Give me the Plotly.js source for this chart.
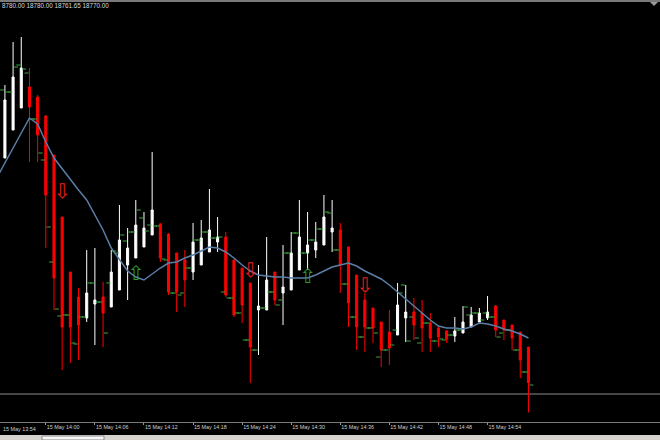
<!DOCTYPE html>
<html>
<head>
<meta charset="utf-8">
<script src="https://cdn.plot.ly/plotly-3.0.1.min.js"></script>
<style>html,body{margin:0;padding:0;background:#000;}#chart{width:660px;height:440px;}</style>
</head>
<body>
<div id="chart"></div>
<script>
// ---- data ----
const day = "2016-05-15 ";
const times = ["13:54","13:55","13:56","13:57","13:58","13:59",
"14:00","14:01","14:02","14:03","14:04","14:05","14:06","14:07","14:08","14:09",
"14:10","14:11","14:12","14:13","14:14","14:15","14:16","14:17","14:18","14:19",
"14:20","14:21","14:22","14:23","14:24","14:25","14:26","14:27","14:28","14:29",
"14:30","14:31","14:32","14:33","14:34","14:35","14:36","14:37","14:38","14:39",
"14:40","14:41","14:42","14:43","14:44","14:45","14:46","14:47","14:48","14:49",
"14:50","14:51","14:52","14:53","14:54","14:55","14:56","14:57","14:58","14:59"];
// Heiken Ashi candles, 13:55 .. 14:59
const openP = [18832.92,18840.76,18846.92,18852.80,18850.00,18844.68,18833.76,18816.40,18801.00,18794.00,
18788.12,18792.04,18794.00,18791.20,18795.96,18802.96,18804.92,18808.00,18811.36,18814.44,
18811.64,18806.32,18804.36,18801.00,18802.96,18806.60,18809.40,18810.80,18804.36,18802.12,
18797.92,18790.36,18790.36,18801.00,18795.12,18795.96,18801.56,18806.32,18807.16,18808.56,
18812.20,18812.76,18808.00,18800.16,18793.16,18790.92,18787.00,18784.20,18783.36,18788.12,
18789.80,18789.52,18786.72,18785.32,18784.48,18783.08,18783.92,18785.60,18787.00,18788.12,
18791.48,18787.56,18786.16,18784.20,18780.00];
const highP = [18853.36,18865.40,18866.80,18858.12,18850.56,18844.96,18833.76,18816.40,18801.00,18796.52,
18807.16,18807.72,18798.20,18807.16,18819.76,18813.32,18821.16,18817.80,18834.60,18814.72,
18811.92,18806.32,18807.16,18814.72,18815.56,18824.24,18816.40,18812.20,18804.36,18802.12,
18797.92,18802.96,18810.80,18801.00,18808.56,18812.20,18821.16,18817.80,18815.00,18822.56,
18821.16,18814.72,18808.00,18800.16,18795.12,18790.92,18787.00,18790.36,18797.92,18797.36,
18793.72,18793.16,18789.52,18785.60,18784.76,18788.40,18791.48,18791.20,18790.92,18794.28,
18791.76,18787.56,18786.16,18784.20,18780.00];
const lowP = [18832.92,18840.76,18846.92,18831.80,18831.80,18807.72,18790.36,18773.56,18775.52,18776.36,
18787.00,18780.56,18780.00,18791.20,18795.96,18793.16,18804.92,18808.00,18811.36,18803.80,
18794.56,18789.80,18791.20,18798.76,18802.96,18806.60,18806.60,18794.00,18788.40,18786.72,
18769.92,18777.76,18790.36,18791.76,18786.16,18795.96,18801.56,18801.56,18804.92,18808.56,
18806.60,18795.12,18785.60,18779.16,18778.60,18781.12,18774.40,18774.96,18783.36,18781.40,
18781.96,18778.60,18778.60,18780.00,18781.12,18781.40,18783.92,18785.60,18787.00,18787.56,
18782.80,18781.96,18779.16,18771.32,18761.65];
const closeP = [18849.16,18855.60,18858.12,18847.20,18839.36,18822.56,18799.32,18785.60,18785.60,18786.16,
18795.12,18793.16,18789.52,18801.00,18809.96,18807.72,18814.16,18813.32,18818.36,18804.92,
18795.40,18795.40,18798.76,18809.40,18810.52,18812.76,18810.80,18794.56,18788.96,18791.76,
18780.00,18791.48,18798.76,18793.16,18796.80,18806.32,18810.80,18808.56,18809.40,18816.40,
18813.32,18802.96,18792.32,18785.60,18785.60,18785.32,18779.16,18779.72,18791.76,18789.80,
18786.16,18785.32,18782.52,18782.80,18782.24,18784.48,18787.00,18788.96,18789.52,18789.80,
18784.76,18784.76,18782.52,18776.36,18770.00];
// real bar open / close ticks (green), 13:55 .. 14:59
const tickOpen = [18851.96,18851.40,18858.96,18856.72,18843.84,18832.36,18803.80,18788.68,18788.96,18780.84,
18788.40,18797.92,18792.60,18797.92,18806.32,18809.68,18812.20,18816.12,18814.16,18813.88,
18804.36,18795.12,18795.12,18802.12,18809.96,18812.20,18810.52,18795.40,18793.72,18789.52,
18781.96,18779.16,18790.92,18795.40,18793.16,18806.32,18811.92,18806.32,18809.96,18813.04,
18817.52,18807.16,18797.64,18788.40,18782.80,18785.32,18777.20,18779.16,18784.76,18797.36,
18788.40,18781.12,18786.72,18781.68,18781.96,18783.36,18784.76,18788.96,18789.52,18789.52,
18788.40,18783.92,18784.76,18779.16,18773.00];
const tickClose = [18851.40,18858.40,18857.84,18843.84,18834.32,18813.60,18790.64,18788.96,18781.12,18788.40,
18797.92,18792.60,18783.92,18806.88,18811.36,18812.20,18818.36,18812.48,18813.88,18804.64,
18795.12,18794.56,18802.12,18809.96,18812.20,18810.52,18810.80,18793.72,18789.52,18781.96,
18779.16,18790.92,18795.40,18791.76,18806.32,18811.92,18806.32,18809.96,18813.04,18817.80,
18807.16,18797.64,18788.40,18782.80,18785.32,18783.92,18779.16,18780.56,18795.12,18781.68,
18782.52,18786.72,18781.68,18782.24,18783.36,18784.76,18791.20,18789.52,18787.56,18788.40,
18782.80,18784.76,18779.16,18773.00,18769.36];
// moving average, 13:54 .. 14:59
const maP = [18827.32,18831.52,18835.72,18839.92,18844.12,18842.44,18837.40,18832.92,18829.84,18826.76,
18823.96,18821.16,18816.96,18812.76,18807.72,18804.36,18801.28,18799.60,18798.76,18800.44,
18802.12,18803.52,18803.80,18804.92,18805.76,18806.88,18808.00,18807.72,18806.60,18804.92,
18802.96,18801.28,18800.16,18799.88,18799.60,18799.60,18799.32,18799.32,18799.32,18800.16,
18801.28,18802.40,18802.96,18803.52,18802.68,18801.28,18800.16,18799.04,18797.36,18795.40,
18793.44,18791.48,18789.52,18787.56,18785.88,18785.32,18785.32,18785.04,18785.60,18786.72,
18786.44,18785.88,18785.04,18784.48,18783.64,18782.52];
const sellTimes = ["14:02","14:25","14:39"];
const sellPrices = [18823.12,18801.00,18796.80];
const buyTimes = ["14:11","14:32"];
const buyPrices = [18800.16,18799.32];
const hLinePrice = 18766.84;
const tickTimes = ["14:00","14:06","14:12","14:18","14:24","14:30","14:36","14:42","14:48","14:54"];
const tickLabels = ["15 May 14:00","15 May 14:06","15 May 14:12","15 May 14:18","15 May 14:24",
"15 May 14:30","15 May 14:36","15 May 14:42","15 May 14:48","15 May 14:54"];
const firstLabel = "15 May 13:54";
const headerText = "8780.00 18780.00 18761.65 18770.00";

// ---- chart ----
const barTimes = times.slice(1);
const candleX = barTimes.map(t => day + t);
const OFFSET_MS = 21000; // tick offset left/right of the bar (style)
const shiftT = (t, ms) => new Date(new Date((day + t).replace(' ', 'T') + ':00Z').getTime() + ms)
  .toISOString().replace('T', ' ').replace('Z', '');

const traces = [
  {
    type: 'candlestick', x: candleX,
    open: openP, high: highP, low: lowP, close: closeP,
    increasing: {line: {color: '#ffffff', width: 1}, fillcolor: '#ffffff'},
    decreasing: {line: {color: '#ff0000', width: 1}, fillcolor: '#ff0000'},
    whiskerwidth: 0, hoverinfo: 'skip'
  },
  {
    type: 'scatter', mode: 'markers',
    x: barTimes.map(t => shiftT(t, -OFFSET_MS)), y: tickOpen,
    marker: {symbol: 'line-ew', size: 3, line: {color: '#3aa83a', width: 1}},
    hoverinfo: 'skip'
  },
  {
    type: 'scatter', mode: 'markers',
    x: barTimes.map(t => shiftT(t, OFFSET_MS)), y: tickClose,
    marker: {symbol: 'line-ew', size: 3, line: {color: '#3aa83a', width: 1}},
    hoverinfo: 'skip'
  },
  {
    type: 'scatter', mode: 'lines',
    x: times.map(t => day + t), y: maP,
    line: {color: '#5b7ea8', width: 1.5}, hoverinfo: 'skip'
  },
  {
    type: 'scatter', mode: 'text',
    x: sellTimes.map(t => day + t), y: sellPrices,
    text: sellTimes.map(() => '\u21E9'),
    textfont: {family: 'DejaVu Sans', size: 20, color: '#e8201a'},
    textposition: 'middle center', hoverinfo: 'skip'
  },
  {
    type: 'scatter', mode: 'text',
    x: buyTimes.map(t => day + t), y: buyPrices,
    text: buyTimes.map(() => '\u21E7'),
    textfont: {family: 'DejaVu Sans', size: 20, color: '#2e9a2e'},
    textposition: 'middle center', hoverinfo: 'skip'
  }
];

const H = 420, B = 18;
function py(pix) { return (440 - B - pix) / H; }

const layout = {
  width: 660, height: 440,
  margin: {l: 0, r: 0, t: 2, b: B, pad: 0},
  paper_bgcolor: '#000000', plot_bgcolor: '#000000',
  showlegend: false,
  boxgap: 0.64,
  font: {family: 'Liberation Sans, Arial, sans-serif', color: '#cfcfcf'},
  xaxis: {
    type: 'date',
    range: [day + '13:54:24', day + '15:15:05'],
    showgrid: false, zeroline: false,
    showline: true, linecolor: '#7a7a7a', linewidth: 1,
    ticks: 'outside', ticklen: 2, tickcolor: '#9a9a9a',
    tickmode: 'array', tickvals: tickTimes.map(t => day + t), ticktext: tickLabels,
    ticklabelposition: 'outside right',
    tickfont: {family: 'Liberation Sans', size: 5.4, color: '#cfcfcf'},
    rangeslider: {visible: false}, fixedrange: true
  },
  yaxis: {
    range: [18759.00, 18876.60],
    showgrid: false, zeroline: false, showticklabels: false, showline: false,
    ticks: '', fixedrange: true
  },
  shapes: [
    {type: 'line', xref: 'paper', yref: 'y', x0: 0, x1: 1, y0: hLinePrice, y1: hLinePrice,
     line: {color: '#8c8c8c', width: 1}, layer: 'below'},
    {type: 'rect', xref: 'paper', yref: 'paper', x0: 0, x1: 1, y0: py(2), y1: py(0),
     fillcolor: '#7a7a7a', line: {width: 0}},
    {type: 'path', xref: 'paper', yref: 'paper',
     path: 'M ' + (650/660) + ' ' + py(2) + ' L ' + (658/660) + ' ' + py(2) + ' L ' + (654/660) + ' ' + py(6) + ' Z',
     fillcolor: '#9a9a9a', line: {width: 0}},
    {type: 'rect', xref: 'paper', yref: 'paper', x0: 0, x1: 1, y0: py(440), y1: py(435),
     fillcolor: '#d6d3ce', line: {width: 0}},
    {type: 'rect', xref: 'paper', yref: 'paper', x0: 42/660, x1: 104/660, y0: py(440), y1: py(436),
     fillcolor: '#f6f6f6', line: {color: '#8a8a8a', width: 1}}
  ],
  annotations: [
    {xref: 'paper', yref: 'paper', x: 0, y: py(6), xanchor: 'left', yanchor: 'middle',
     text: headerText, showarrow: false,
     font: {family: 'Liberation Sans', size: 6.3, color: '#d8d8d8'}},
    {xref: 'paper', yref: 'paper', x: 0.5/660, y: py(429), xanchor: 'left', yanchor: 'middle',
     text: firstLabel, showarrow: false,
     font: {family: 'Liberation Sans', size: 5.4, color: '#cfcfcf'}}
  ]
};

Plotly.newPlot('chart', traces, layout, {staticPlot: true, displayModeBar: false});
</script>
</body>
</html>
